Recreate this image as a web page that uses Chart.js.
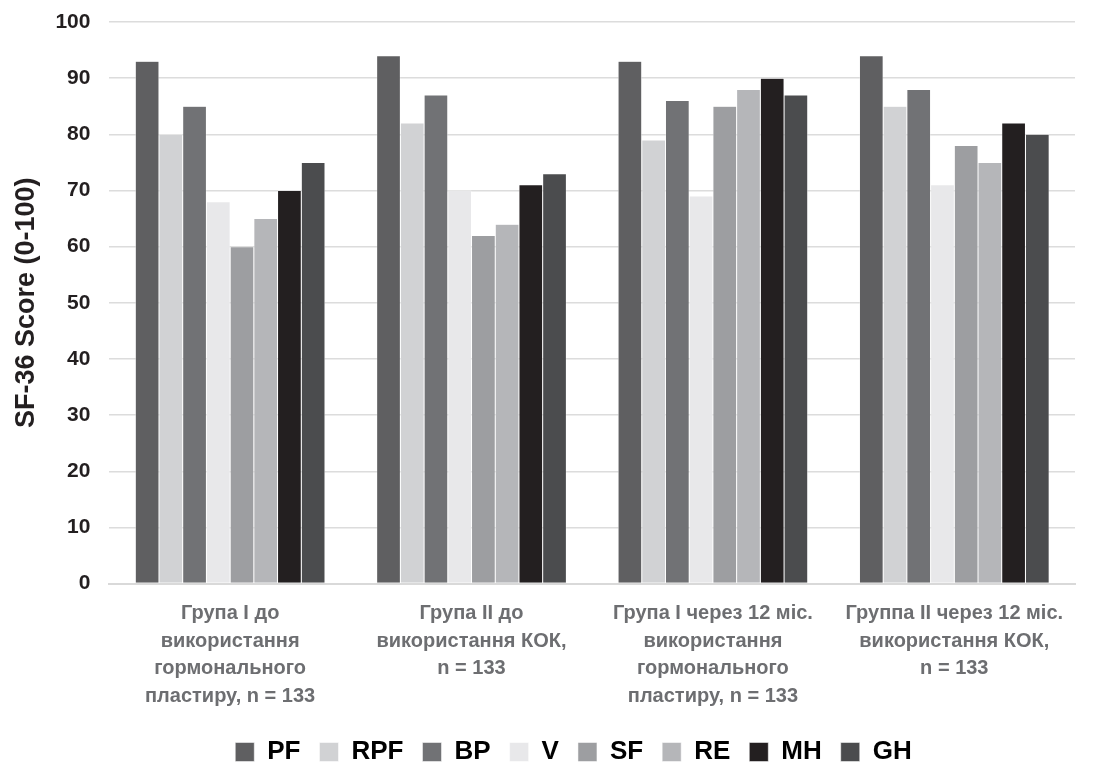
<!DOCTYPE html>
<html lang="uk">
<head>
  <meta charset="UTF-8">
  <title>SF-36</title>
  <script src="https://cdn.jsdelivr.net/npm/chart.js"></script>
  <style>
    html, body { margin: 0; padding: 0; background: #fff; }
    .grafico { position: relative; width: 1102px; height: 763px; }
  </style>
</head>
<body>
  <div class="grafico">
    <canvas id="myChartCanvas"></canvas>
  </div>

<script>
  // categorias (linhas do rótulo do eixo x)
  const grupos = [
    ['Група I до', 'використання', 'гормонального', 'пластиру, n = 133'],
    ['Група II до', 'використання КОК,', 'n = 133'],
    ['Група I через 12 міс.', 'використання', 'гормонального', 'пластиру, n = 133'],
    ['Группа II через 12 міс.', 'використання КОК,', 'n = 133']
  ];

  const escalas = ['PF', 'RPF', 'BP', 'V', 'SF', 'RE', 'MH', 'GH'];

  // valores por escala
  const PF  = [93, 94, 93, 94];
  const RPF = [80, 82, 79, 85];
  const BP  = [85, 87, 86, 88];
  const V   = [68, 70, 69, 71];
  const SF  = [60, 62, 85, 78];
  const RE  = [65, 64, 88, 75];
  const MH  = [70, 71, 90, 82];
  const GH  = [75, 73, 87, 80];

  const yTicks = [0, 10, 20, 30, 40, 50, 60, 70, 80, 90, 100];

  const valores = [PF, RPF, BP, V, SF, RE, MH, GH];
  const cores = ['#5f5f61', '#d1d2d4', '#717275', '#e8e8ea', '#9d9ea1', '#b5b6b9', '#231f20', '#4b4c4e'];

  const fonte = 'Liberation Sans, Arial, sans-serif';

  let dados = {
    labels: grupos,
    datasets: escalas.map(function (nome, i) {
      return {
        label: nome,
        data: valores[i],
        backgroundColor: cores[i],
        borderColor: '#ffffff',
        borderWidth: 0.5,
        categoryPercentage: 0.786,
        barPercentage: 1.0
      };
    })
  };

  // empurra a legenda um pouco para a direita, como no original
  const deslocaLegenda = {
    id: 'deslocaLegenda',
    afterLayout: function (chart) {
      if (chart.legend) {
        chart.legend.left += 66;
      }
    }
  };

  const config = {
    type: 'bar',
    data: dados,
    plugins: [deslocaLegenda],
    options: {
      responsive: true,
      maintainAspectRatio: false,
      animation: false,
      layout: { padding: { top: 0, right: 27, left: 6, bottom: -12 } },
      plugins: {
        tooltip: { enabled: false },
        legend: {
          position: 'bottom',
          labels: {
            boxWidth: 19,
            boxHeight: 19,
            padding: 19,
            color: '#000',
            font: { family: fonte, size: 26, weight: 'bold' }
          }
        }
      },
      scales: {
        x: {
          afterFit: function (scale) {
            scale.height = scale.height - 6;
          },
          grid: { display: false, drawTicks: false },
          border: { display: true, color: '#d9d9d9', width: 2 },
          ticks: {
            maxRotation: 0,
            autoSkip: false,
            padding: 16,
            color: '#6d6e71',
            font: { family: fonte, size: 20, weight: 'bold', lineHeight: 1.38 }
          }
        },
        y: {
          min: 0,
          max: 100,
          afterBuildTicks: function (axis) {
            axis.ticks = yTicks.map(function (v) { return { value: v }; });
          },
          afterFit: function (scale) {
            scale.width = scale.width - 16;
            scale.paddingTop = 22;
          },
          grid: { color: '#dcdcdc', lineWidth: 1.5, drawTicks: false },
          border: { display: false },
          ticks: {
            padding: 19,
            color: '#231f20',
            font: { family: fonte, size: 21, weight: 'bold' }
          },
          title: {
            display: true,
            text: 'SF-36 Score (0-100)',
            color: '#231f20',
            padding: { top: 4, bottom: 10 },
            font: { family: fonte, size: 27, weight: 'bold' }
          }
        }
      }
    }
  };

  let myChart = new Chart(document.getElementById('myChartCanvas'), config);
</script>
</body>
</html>
